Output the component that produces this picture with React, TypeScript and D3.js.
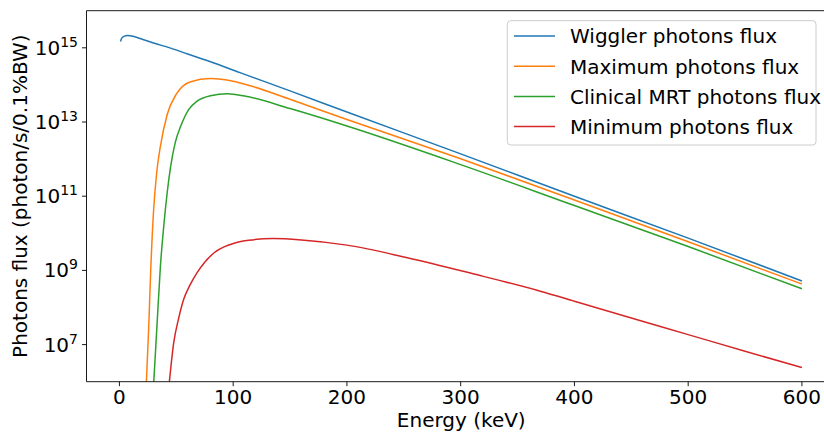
import React from "react";
import * as d3 from "d3";

// Energy (keV) and flux (photon/s/0.1%BW)
const wigglerE = [1, 2, 4, 7, 12, 20, 30, 45, 60, 80, 106, 150, 200, 300, 400, 500, 600];
const wigglerF = [1.48e15, 1.82e15, 2.04e15, 2.14e15, 2.04e15, 1.7e15, 1.35e15, 9.8e14, 6.8e14, 4.2e14, 2.14e14, 6.9e13, 1.86e13, 1.38e12, 1.0e11, 7.4e9, 5.2e8];

const maximumE = [23.7, 25.8, 27.5, 30, 33, 36, 42, 50, 62, 80, 100, 115, 150, 200, 300, 400, 500, 600];
const maximumF = [1.0e6, 3.2e7, 1.0e9, 4.0e10, 5.0e11, 2.2e12, 1.6e13, 5.6e13, 1.2e14, 1.48e14, 1.26e14, 9.5e13, 4.1e13, 1.17e13, 1.02e12, 7.9e10, 5.9e9, 4.3e8];

const clinicalE = [30.2, 33, 36, 39, 42, 45, 49, 54, 61, 68, 80, 95, 110, 150, 200, 300, 400, 500, 600];
const clinicalF = [1.0e6, 3.2e7, 1.26e9, 1.6e10, 1.26e11, 6.3e11, 2.75e12, 7.9e12, 2.2e13, 3.6e13, 5.1e13, 5.75e13, 5.0e13, 2.3e13, 7.8e12, 7.1e11, 5.6e10, 4.4e9, 3.2e8];

const minimumE = [43.9, 47.7, 52, 56.5, 62, 68.3, 75, 83, 97.5, 113.6, 135, 160, 200, 253, 311, 370, 400, 450, 500, 550, 600];
const minimumF = [1.0e6, 1.12e7, 5.0e7, 1.66e8, 4.0e8, 8.7e8, 1.66e9, 2.95e9, 5.0e9, 6.5e9, 7.2e9, 6.6e9, 4.8e9, 2.2e9, 8.1e8, 2.75e8, 1.48e8, 5.2e7, 1.86e7, 6.6e6, 2.4e6];

const seriesNames = ["Wiggler photons flux", "Maximum photons flux", "Clinical MRT photons flux", "Minimum photons flux"];
const seriesColors = ["#1f77b4", "#ff7f0e", "#2ca02c", "#d62728"];

const xTicks = [0, 100, 200, 300, 400, 500, 600];
const yTickExps = [7, 9, 11, 13, 15];

const W = 824;
const H = 432;
const left = 86.5;
const top = 10.7;
const bottom = 381.7;
const right = 836;
const FONT = "DejaVu Sans";

export default function App() {
  const x = d3.scaleLinear().domain([-28.95, 629.95]).range([left, right]);
  const y = d3.scaleLog().domain([1e6, 1e16]).range([bottom, top]);

  const series = [
    { e: wigglerE, f: wigglerF },
    { e: maximumE, f: maximumF },
    { e: clinicalE, f: clinicalF },
    { e: minimumE, f: minimumF },
  ];

  const line = d3
    .line<[number, number]>()
    .x((d) => x(d[0]))
    .y((d) => y(d[1]))
    .curve(d3.curveMonotoneX);

  const legendX = 507.3;
  const legendY = 20.7;
  const legendW = 308.7;
  const legendH = 124.3;
  const rowGap = 30.2;

  return (
    <svg width={W} height={H} style={{ position: "absolute", left: 0, top: 0, background: "#fff" }} fontFamily={FONT}>
      <defs>
        <clipPath id="plotclip">
          <rect x={left} y={top} width={right - left} height={bottom - top} />
        </clipPath>
      </defs>
      <rect x={0} y={0} width={W} height={H} fill="#fff" />
      <g clipPath="url(#plotclip)">
        {series.map((s, i) => (
          <path
            key={i}
            d={line(s.e.map((e, k) => [e, s.f[k]] as [number, number])) || ""}
            fill="none"
            stroke={seriesColors[i]}
            strokeWidth={1.5}
          />
        ))}
      </g>
      {/* spines */}
      <line x1={left} y1={top} x2={left} y2={bottom} stroke="#000" strokeWidth={0.9} />
      <line x1={left} y1={bottom} x2={right} y2={bottom} stroke="#000" strokeWidth={0.9} />
      <line x1={left} y1={top} x2={right} y2={top} stroke="#000" strokeWidth={0.9} />
      <line x1={right} y1={top} x2={right} y2={bottom} stroke="#000" strokeWidth={0.9} />
      {/* x ticks */}
      {xTicks.map((t) => (
        <g key={t}>
          <line x1={x(t)} x2={x(t)} y1={bottom} y2={bottom + 4.5} stroke="#000" strokeWidth={0.9} />
          <text x={x(t)} y={404} textAnchor="middle" fontSize={20} fill="#000">
            {t}
          </text>
        </g>
      ))}
      {/* y ticks */}
      {yTickExps.map((p) => {
        const yy = y(Math.pow(10, p));
        return (
          <g key={p}>
            <line x1={left - 4.5} x2={left} y1={yy} y2={yy} stroke="#000" strokeWidth={0.9} />
            <text x={78} y={yy + 7} textAnchor="end" fontSize={20} fill="#000">
              10
              <tspan dy={-8} fontSize={14}>
                {p}
              </tspan>
            </text>
          </g>
        );
      })}
      {/* axis labels */}
      <text x={(left + right) / 2} y={427} textAnchor="middle" fontSize={20} fill="#000">
        Energy (keV)
      </text>
      <text
        transform={`translate(27,${(top + bottom) / 2}) rotate(-90)`}
        textAnchor="middle"
        fontSize={20}
        fill="#000"
      >
        Photons flux (photon/s/0.1%BW)
      </text>
      {/* legend */}
      <rect
        x={legendX}
        y={legendY}
        width={legendW}
        height={legendH}
        rx={3.5}
        fill="#fff"
        fillOpacity={0.8}
        stroke="#cccccc"
        strokeWidth={1}
      />
      {seriesNames.map((n, i) => {
        const ry = 36 + i * rowGap;
        return (
          <g key={n}>
            <line x1={514} x2={555} y1={ry} y2={ry} stroke={seriesColors[i]} strokeWidth={1.5} />
            <text x={570} y={ry + 7.3} fontSize={20} fill="#000">
              {n}
            </text>
          </g>
        );
      })}
    </svg>
  );
}
